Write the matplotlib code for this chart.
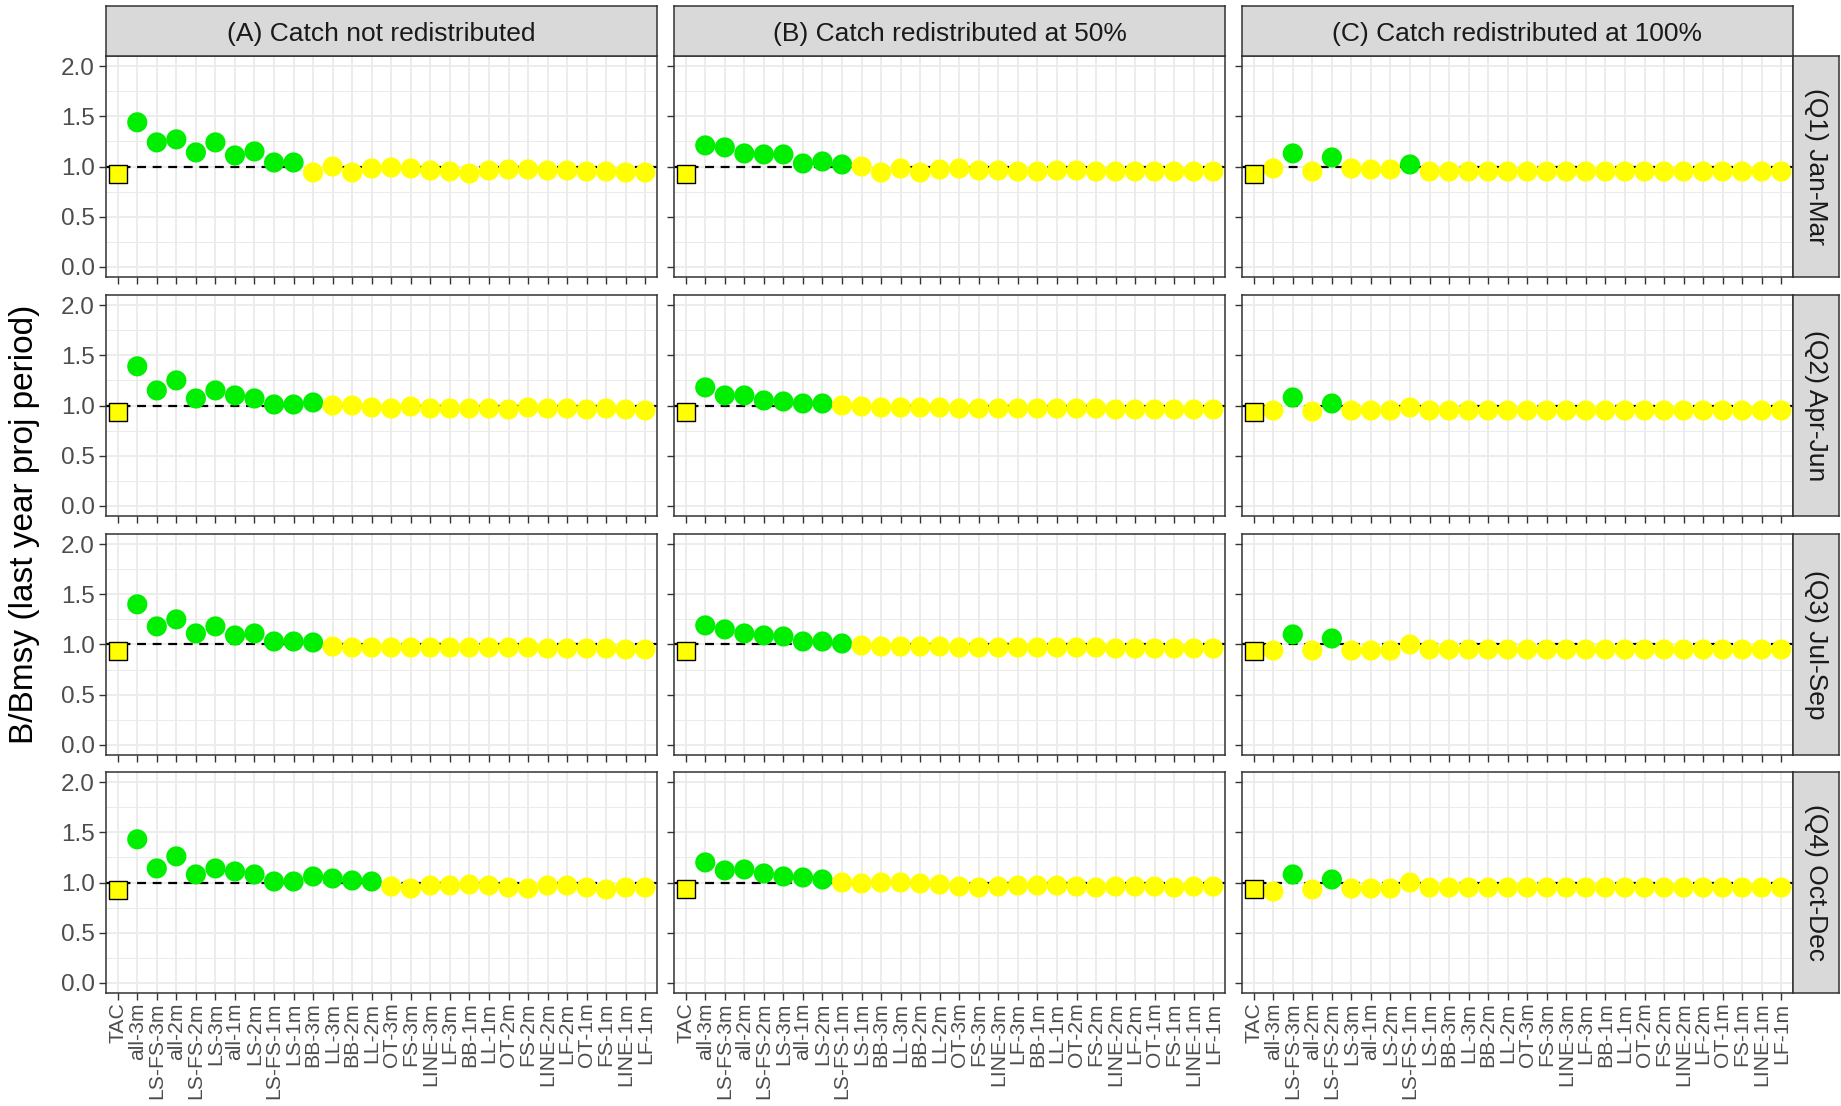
import matplotlib
matplotlib.use("Agg")
import matplotlib.pyplot as plt
from matplotlib.ticker import MultipleLocator

plt.rcParams['font.family'] = ['Liberation Sans', 'DejaVu Sans']

# management scenarios, in plotting order
scenarios = ['TAC', 'all-3m', 'LS-FS-3m', 'all-2m', 'LS-FS-2m', 'LS-3m', 'all-1m',
             'LS-2m', 'LS-FS-1m', 'LS-1m', 'BB-3m', 'LL-3m', 'BB-2m', 'LL-2m',
             'OT-3m', 'FS-3m', 'LINE-3m', 'LF-3m', 'BB-1m', 'LL-1m', 'OT-2m',
             'FS-2m', 'LINE-2m', 'LF-2m', 'OT-1m', 'FS-1m', 'LINE-1m', 'LF-1m']

col_titles = ['(A) Catch not redistributed', '(B) Catch redistributed at 50%',
              '(C) Catch redistributed at 100%']
row_titles = ['(Q1) Jan-Mar', '(Q2) Apr-Jun', '(Q3) Jul-Sep', '(Q4) Oct-Dec']

# B/Bmsy in the last year of the projection period
q1_a = [0.93, 1.44, 1.24, 1.27, 1.14, 1.24, 1.11, 1.15, 1.04, 1.04, 0.94, 1.00, 0.94, 0.98,
        0.99, 0.98, 0.96, 0.95, 0.93, 0.96, 0.97, 0.97, 0.96, 0.96, 0.95, 0.95, 0.94, 0.94]
q2_a = [0.94, 1.39, 1.15, 1.25, 1.07, 1.15, 1.10, 1.07, 1.01, 1.01, 1.03, 1.00, 1.00, 0.98,
        0.97, 0.99, 0.97, 0.97, 0.97, 0.97, 0.96, 0.98, 0.97, 0.97, 0.96, 0.97, 0.96, 0.95]
q3_a = [0.94, 1.40, 1.18, 1.25, 1.11, 1.18, 1.09, 1.11, 1.03, 1.03, 1.02, 0.98, 0.97, 0.97,
        0.97, 0.97, 0.97, 0.97, 0.97, 0.97, 0.97, 0.97, 0.96, 0.96, 0.96, 0.96, 0.95, 0.95]
q4_a = [0.93, 1.43, 1.14, 1.26, 1.08, 1.14, 1.11, 1.08, 1.01, 1.01, 1.06, 1.04, 1.02, 1.01,
        0.96, 0.94, 0.97, 0.97, 0.98, 0.97, 0.95, 0.94, 0.97, 0.97, 0.95, 0.93, 0.95, 0.95]

q1_b = [0.93, 1.21, 1.19, 1.13, 1.12, 1.12, 1.03, 1.05, 1.02, 1.00, 0.94, 0.98, 0.94, 0.97,
        0.98, 0.96, 0.96, 0.95, 0.95, 0.96, 0.96, 0.95, 0.95, 0.95, 0.95, 0.95, 0.95, 0.95]
q2_b = [0.94, 1.18, 1.10, 1.10, 1.05, 1.04, 1.02, 1.02, 1.00, 0.99, 0.98, 0.98, 0.98, 0.98,
        0.97, 0.97, 0.97, 0.97, 0.97, 0.97, 0.97, 0.97, 0.96, 0.96, 0.96, 0.96, 0.96, 0.96]
q3_b = [0.94, 1.19, 1.15, 1.11, 1.09, 1.08, 1.03, 1.03, 1.01, 0.99, 0.98, 0.98, 0.98, 0.98,
        0.97, 0.97, 0.97, 0.97, 0.97, 0.97, 0.97, 0.97, 0.96, 0.96, 0.96, 0.96, 0.96, 0.96]
q4_b = [0.94, 1.20, 1.12, 1.13, 1.09, 1.06, 1.05, 1.03, 1.00, 0.99, 1.00, 1.00, 0.99, 0.98,
        0.96, 0.95, 0.96, 0.97, 0.97, 0.97, 0.96, 0.95, 0.96, 0.96, 0.96, 0.95, 0.96, 0.96]

q1_c = [0.93, 0.98, 1.13, 0.95, 1.09, 0.98, 0.97, 0.97, 1.02, 0.95, 0.95, 0.95, 0.95, 0.95,
        0.95, 0.95, 0.95, 0.95, 0.95, 0.95, 0.95, 0.95, 0.95, 0.95, 0.95, 0.95, 0.95, 0.95]
q2_c = [0.94, 0.95, 1.08, 0.94, 1.02, 0.95, 0.95, 0.95, 0.98, 0.95, 0.95, 0.95, 0.95, 0.95,
        0.95, 0.95, 0.95, 0.95, 0.95, 0.95, 0.95, 0.95, 0.95, 0.95, 0.95, 0.95, 0.95, 0.95]
q3_c = [0.94, 0.94, 1.10, 0.94, 1.06, 0.94, 0.94, 0.94, 1.00, 0.95, 0.95, 0.95, 0.95, 0.95,
        0.95, 0.95, 0.95, 0.95, 0.95, 0.95, 0.95, 0.95, 0.95, 0.95, 0.95, 0.95, 0.95, 0.95]
q4_c = [0.94, 0.91, 1.08, 0.93, 1.03, 0.94, 0.94, 0.94, 1.00, 0.95, 0.95, 0.95, 0.95, 0.95,
        0.95, 0.95, 0.95, 0.95, 0.95, 0.95, 0.95, 0.95, 0.95, 0.95, 0.95, 0.95, 0.95, 0.95]

panels = [[q1_a, q1_b, q1_c],
          [q2_a, q2_b, q2_c],
          [q3_a, q3_b, q3_c],
          [q4_a, q4_b, q4_c]]

GREEN = '#00EE00'
YELLOW = '#FFFF00'
GRID = '#EBEBEB'
DARK = '#333333'

W, H = 1841, 1106
fig = plt.figure(figsize=(W / 100, H / 100), dpi=100)


def box(left, top, width, height):
    return [left / W, 1 - (top + height) / H, width / W, height / H]


col_left = [106, 674, 1242]
row_top = [56, 295, 534, 772]
pw, ph = 551, 221
x = list(range(len(scenarios)))

for r in range(4):
    for c in range(3):
        ax = fig.add_axes(box(col_left[c], row_top[r], pw, ph))
        vals = panels[r][c]
        cols = [GREEN if v > 1 else YELLOW for v in vals]

        # B = Bmsy reference, drawn under the points
        ax.axhline(1, color='black', lw=1.6, ls=(0, (4, 3)), zorder=2)
        ax.scatter(x[1:], vals[1:], s=210, c=cols[1:], linewidths=0, zorder=3)
        ax.scatter(x[:1], vals[:1], s=185, marker='s', c=cols[:1],
                   edgecolors='black', linewidths=1.0, zorder=4)

        ax.set_xlim(-0.6, len(scenarios) - 0.4)
        ax.set_ylim(-0.1, 2.1)
        ax.set_xticks(x)
        ax.set_yticks([0, 0.5, 1.0, 1.5, 2.0])
        ax.yaxis.set_minor_locator(MultipleLocator(0.25))
        ax.set_axisbelow(True)
        ax.grid(which='major', color=GRID, lw=1.3)
        ax.grid(which='minor', axis='y', color=GRID, lw=0.7)
        for sp in ax.spines.values():
            sp.set_color(DARK)
            sp.set_linewidth(1.1)
        ax.tick_params(which='major', length=5, width=1.0, color=DARK,
                       labelcolor='#4D4D4D', pad=3)
        ax.tick_params(axis='y', labelsize=17.5)
        ax.tick_params(axis='x', labelsize=15.2, pad=2)
        ax.tick_params(which='minor', length=0)

        if c == 0:
            ax.set_yticklabels(['0.0', '0.5', '1.0', '1.5', '2.0'])
        else:
            ax.set_yticklabels([])
        if r == 3:
            ax.set_xticklabels(scenarios, rotation=90, ha='center', va='top')
        else:
            ax.set_xticklabels([])

        # facet strips
        if r == 0:
            sa = fig.add_axes(box(col_left[c], 6, pw, 50))
            sa.set_facecolor('#D9D9D9')
            sa.set_xticks([]); sa.set_yticks([])
            for sp in sa.spines.values():
                sp.set_color(DARK); sp.set_linewidth(1.1)
            sa.text(0.5, 0.45, col_titles[c], ha='center', va='center',
                    fontsize=19, color='#1A1A1A', transform=sa.transAxes)
        if c == 2:
            sa = fig.add_axes(box(1793, row_top[r], 46, ph))
            sa.set_facecolor('#D9D9D9')
            sa.set_xticks([]); sa.set_yticks([])
            for sp in sa.spines.values():
                sp.set_color(DARK); sp.set_linewidth(1.1)
            sa.text(0.5, 0.5, row_titles[r], ha='center', va='center', rotation=-90,
                    fontsize=19, color='#1A1A1A', transform=sa.transAxes)

fig.text(25 / W, 1 - 524 / H, 'B/Bmsy (last year proj period)', rotation=90,
         ha='center', va='center', fontsize=24, color='black')

fig.savefig('out.png', dpi=100, facecolor='white')
